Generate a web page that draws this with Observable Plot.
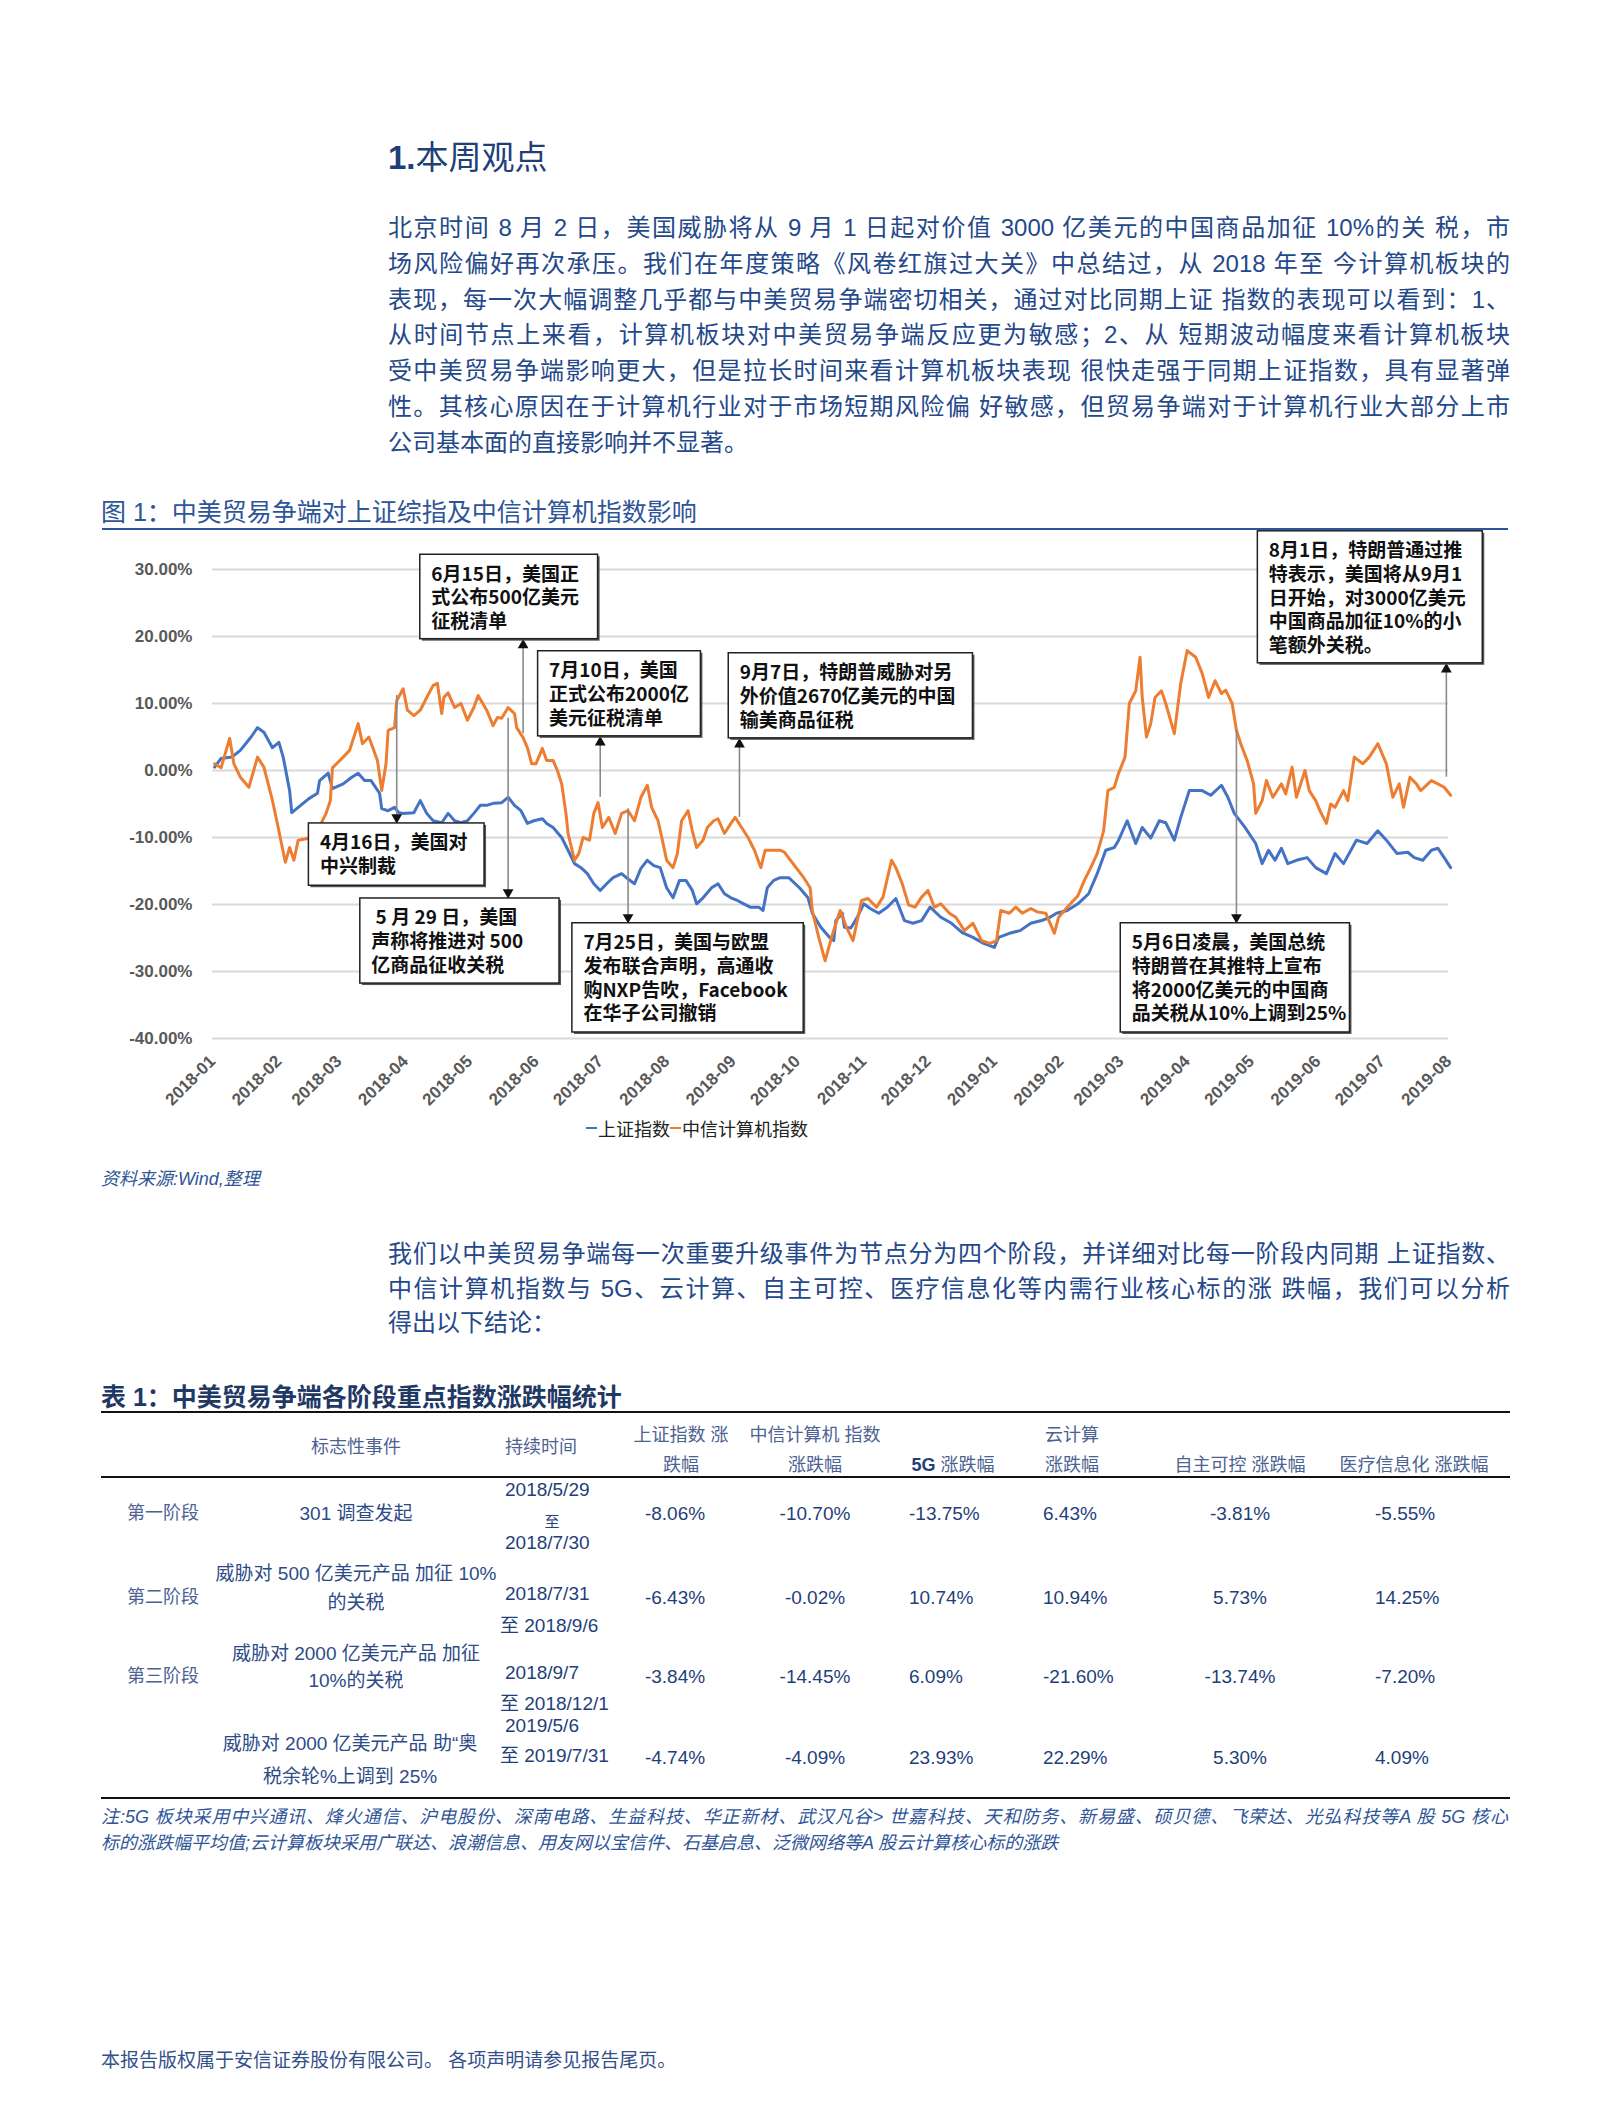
<!DOCTYPE html>
<html>
<head>
<meta charset="utf-8">
<script src="https://cdn.jsdelivr.net/npm/d3@7"></script>
<script src="https://cdn.jsdelivr.net/npm/@observablehq/plot@0.6"></script>
<style>
  html, body { margin: 0; padding: 0; background: #fff; }
  #page { position: relative; width: 1602px; height: 2112px; overflow: hidden;
          font-family: "Liberation Sans", "Noto Sans CJK SC", sans-serif; }
  .abs { position: absolute; white-space: nowrap; line-height: 1; }
  .jl { position: absolute; white-space: normal; text-align: justify; text-align-last: justify; line-height: 1; }
  #chart svg { position: absolute; left: 90px; top: 530px; overflow: visible; }
</style>
</head>
<body>
<div id="page"><div id="chart"></div></div>
<script>
// ---------------- DATA ----------------
const sectionTitle = "本周观点";
const para1Lines = [
  "北京时间 8 月 2 日，美国威胁将从 9 月 1 日起对价值 3000 亿美元的中国商品加征 10%的关 税，市",
  "场风险偏好再次承压。我们在年度策略《风卷红旗过大关》中总结过，从 2018 年至 今计算机板块的",
  "表现，每一次大幅调整几乎都与中美贸易争端密切相关，通过对比同期上证 指数的表现可以看到：1、",
  "从时间节点上来看，计算机板块对中美贸易争端反应更为敏感；2、从 短期波动幅度来看计算机板块",
  "受中美贸易争端影响更大，但是拉长时间来看计算机板块表现 很快走强于同期上证指数，具有显著弹",
  "性。其核心原因在于计算机行业对于市场短期风险偏 好敏感，但贸易争端对于计算机行业大部分上市",
  "公司基本面的直接影响并不显著。"
];
const figureTitle = "图 1：中美贸易争端对上证综指及中信计算机指数影响";
const sourceText = "资料来源:Wind,整理";
const para2Lines = [
  "我们以中美贸易争端每一次重要升级事件为节点分为四个阶段，并详细对比每一阶段内同期 上证指数、",
  "中信计算机指数与 5G、云计算、自主可控、医疗信息化等内需行业核心标的涨 跌幅，我们可以分析",
  "得出以下结论："
];
const tableTitle = "表 1：中美贸易争端各阶段重点指数涨跌幅统计";
const noteLines = [
  "注:5G 板块采用中兴通讯、烽火通信、沪电股份、深南电路、生益科技、华正新材、武汉凡谷> 世嘉科技、天和防务、新易盛、硕贝德、飞荣达、光弘科技等A 股 5G 核心",
  "标的涨跌幅平均值;云计算板块采用广联达、浪潮信息、用友网以宝信件、石基启息、泛微网络等A 股云计算核心标的涨跌"
];
const footerText = "本报告版权属于安信证券股份有限公司。 各项声明请参见报告尾页。";

const seriesNames = ["上证指数", "中信计算机指数"];
const yTicks = [30, 20, 10, 0, -10, -20, -30, -40];
const xTickLabels = ["2018-01","2018-02","2018-03","2018-04","2018-05","2018-06","2018-07","2018-08","2018-09","2018-10",
  "2018-11","2018-12","2019-01","2019-02","2019-03","2019-04","2019-05","2019-06","2019-07","2019-08"];

// 上证指数 cumulative change (%)
const shSeries = [
  ["2018-01-02",0.5],["2018-01-05",1.8],["2018-01-10",2.0],["2018-01-14",3.0],["2018-01-19",5.0],["2018-01-22",6.4],
  ["2018-01-25",5.7],["2018-01-29",3.4],["2018-02-01",4.2],["2018-02-03",2.0],["2018-02-06",-3.0],["2018-02-07",-6.3],
  ["2018-02-10",-5.5],["2018-02-15",-4.2],["2018-02-19",-3.4],["2018-02-20",-1.5],["2018-02-24",-0.4],["2018-02-26",-2.7],
  ["2018-03-03",-2.0],["2018-03-07",-1.0],["2018-03-10",-0.4],["2018-03-13",-1.5],["2018-03-16",-1.5],["2018-03-20",-3.4],
  ["2018-03-21",-5.7],["2018-03-24",-6.0],["2018-03-27",-5.5],["2018-03-29",-6.3],["2018-03-31",-6.4],["2018-04-05",-6.3],
  ["2018-04-08",-4.5],["2018-04-11",-6.4],["2018-04-14",-7.5],["2018-04-18",-7.8],["2018-04-21",-6.4],["2018-04-24",-7.5],
  ["2018-04-27",-7.8],["2018-04-30",-7.5],["2018-05-03",-6.4],["2018-05-06",-5.2],["2018-05-09",-5.2],["2018-05-12",-4.9],
  ["2018-05-16",-4.8],["2018-05-19",-4.0],["2018-05-22",-5.2],["2018-05-25",-6.0],["2018-05-28",-7.9],["2018-05-31",-7.5],
  ["2018-06-04",-7.2],["2018-06-06",-7.9],["2018-06-09",-8.5],["2018-06-13",-10.0],["2018-06-16",-11.9],["2018-06-19",-13.9],
  ["2018-06-22",-14.5],["2018-06-25",-15.4],["2018-06-28",-16.9],["2018-07-01",-17.9],["2018-07-04",-16.9],["2018-07-07",-16.0],
  ["2018-07-11",-15.4],["2018-07-14",-16.2],["2018-07-17",-16.9],["2018-07-20",-14.6],["2018-07-23",-13.4],["2018-07-26",-14.2],
  ["2018-07-29",-14.5],["2018-08-01",-17.5],["2018-08-04",-19.0],["2018-08-07",-16.4],["2018-08-10",-16.4],["2018-08-13",-17.9],
  ["2018-08-15",-19.9],["2018-08-18",-19.0],["2018-08-22",-17.5],["2018-08-25",-16.9],["2018-08-28",-18.4],["2018-08-31",-19.0],
  ["2018-09-03",-19.4],["2018-09-06",-19.9],["2018-09-09",-20.4],["2018-09-13",-20.4],["2018-09-15",-20.9],["2018-09-17",-17.5],
  ["2018-09-20",-16.4],["2018-09-23",-16.0],["2018-09-27",-16.0],["2018-10-02",-17.5],["2018-10-06",-19.0],["2018-10-08",-21.3],
  ["2018-10-12",-23.4],["2018-10-16",-24.9],["2018-10-18",-25.4],["2018-10-19",-22.4],["2018-10-22",-21.3],["2018-10-23",-23.4],
  ["2018-10-26",-23.5],["2018-10-29",-21.9],["2018-11-01",-19.9],["2018-11-04",-20.6],["2018-11-08",-21.3],["2018-11-12",-20.4],
  ["2018-11-16",-19.1],["2018-11-20",-22.4],["2018-11-24",-22.8],["2018-11-28",-22.4],["2018-12-02",-20.4],["2018-12-07",-21.9],
  ["2018-12-12",-22.8],["2018-12-17",-24.2],["2018-12-22",-24.9],["2018-12-27",-25.8],["2019-01-01",-26.4],["2019-01-03",-24.9],
  ["2019-01-08",-24.3],["2019-01-13",-23.9],["2019-01-18",-22.8],["2019-01-23",-22.4],["2019-01-27",-21.9],["2019-01-30",-21.3],
  ["2019-02-04",-20.9],["2019-02-09",-19.9],["2019-02-14",-18.4],["2019-02-18",-15.4],["2019-02-22",-11.9],["2019-02-26",-11.5],
  ["2019-02-28",-10.4],["2019-03-04",-7.5],["2019-03-08",-10.9],["2019-03-11",-8.5],["2019-03-15",-10.1],["2019-03-19",-7.5],
  ["2019-03-22",-7.8],["2019-03-26",-10.4],["2019-03-29",-7.0],["2019-04-02",-3.0],["2019-04-08",-3.0],["2019-04-12",-3.7],
  ["2019-04-17",-2.2],["2019-04-20",-4.0],["2019-04-23",-6.4],["2019-04-28",-8.5],["2019-05-03",-10.9],["2019-05-06",-13.9],
  ["2019-05-09",-11.9],["2019-05-12",-13.4],["2019-05-15",-11.6],["2019-05-18",-13.9],["2019-05-22",-13.4],["2019-05-27",-13.0],
  ["2019-05-31",-14.5],["2019-06-05",-15.4],["2019-06-09",-12.4],["2019-06-13",-13.9],["2019-06-19",-10.4],["2019-06-24",-10.9],
  ["2019-06-29",-9.0],["2019-07-03",-10.4],["2019-07-08",-12.4],["2019-07-13",-12.2],["2019-07-16",-13.0],["2019-07-20",-13.4],
  ["2019-07-24",-11.9],["2019-07-27",-11.6],["2019-07-30",-13.0],["2019-08-02",-14.5]
];

// 中信计算机指数 cumulative change (%)
const citicSeries = [
  ["2018-01-02",1.0],["2018-01-05",0.4],["2018-01-09",4.8],["2018-01-11",1.0],["2018-01-14",-1.0],["2018-01-18",-2.5],
  ["2018-01-22",2.0],["2018-01-25",0.5],["2018-01-29",-4.5],["2018-01-31",-7.5],["2018-02-04",-13.7],["2018-02-06",-11.5],
  ["2018-02-08",-13.4],["2018-02-10",-10.4],["2018-02-15",-10.1],["2018-02-19",-9.0],["2018-02-23",-6.4],["2018-02-25",-4.5],
  ["2018-02-26",0.4],["2018-03-03",2.0],["2018-03-06",3.0],["2018-03-10",7.0],["2018-03-12",4.0],["2018-03-15",5.0],
  ["2018-03-19",1.5],["2018-03-21",-3.0],["2018-03-23",1.0],["2018-03-24",6.0],["2018-03-27",6.4],["2018-03-28",10.4],
  ["2018-03-31",12.2],["2018-04-02",9.0],["2018-04-05",8.2],["2018-04-08",9.0],["2018-04-11",10.9],["2018-04-14",12.7],
  ["2018-04-16",13.0],["2018-04-18",8.5],["2018-04-19",10.9],["2018-04-21",11.6],["2018-04-24",9.4],["2018-04-27",10.0],
  ["2018-04-30",7.5],["2018-05-03",9.4],["2018-05-05",11.2],["2018-05-09",9.0],["2018-05-12",6.7],["2018-05-14",7.9],
  ["2018-05-16",7.8],["2018-05-19",9.4],["2018-05-22",8.5],["2018-05-23",6.4],["2018-05-26",4.9],["2018-05-28",3.4],
  ["2018-05-30",1.0],["2018-06-01",1.0],["2018-06-04",3.3],["2018-06-06",1.5],["2018-06-09",1.5],["2018-06-11",0.0],
  ["2018-06-13",-2.0],["2018-06-15",-6.4],["2018-06-16",-9.4],["2018-06-19",-13.4],["2018-06-21",-12.4],["2018-06-23",-10.0],
  ["2018-06-26",-10.4],["2018-06-28",-6.4],["2018-06-30",-4.8],["2018-07-02",-8.5],["2018-07-05",-7.0],["2018-07-08",-9.4],
  ["2018-07-11",-6.4],["2018-07-14",-6.0],["2018-07-17",-7.5],["2018-07-20",-4.0],["2018-07-23",-2.2],["2018-07-25",-5.5],
  ["2018-07-28",-7.5],["2018-07-30",-10.4],["2018-08-01",-13.4],["2018-08-04",-14.5],["2018-08-06",-12.4],["2018-08-08",-7.5],
  ["2018-08-11",-6.0],["2018-08-13",-9.0],["2018-08-15",-11.5],["2018-08-18",-10.4],["2018-08-20",-8.5],["2018-08-23",-7.5],
  ["2018-08-25",-7.2],["2018-08-28",-9.4],["2018-08-31",-7.9],["2018-09-02",-7.0],["2018-09-05",-8.5],["2018-09-08",-10.0],
  ["2018-09-11",-11.9],["2018-09-14",-14.5],["2018-09-16",-11.9],["2018-09-20",-11.9],["2018-09-23",-11.9],["2018-09-25",-12.2],
  ["2018-09-29",-13.9],["2018-10-04",-16.0],["2018-10-07",-17.5],["2018-10-08",-20.9],["2018-10-11",-24.9],["2018-10-14",-28.4],
  ["2018-10-17",-24.9],["2018-10-21",-20.9],["2018-10-24",-23.4],["2018-10-27",-25.4],["2018-10-31",-19.4],["2018-11-03",-19.1],
  ["2018-11-07",-20.4],["2018-11-10",-18.9],["2018-11-14",-13.4],["2018-11-16",-14.5],["2018-11-19",-16.9],["2018-11-22",-20.1],
  ["2018-11-25",-20.4],["2018-11-28",-18.9],["2018-12-01",-17.9],["2018-12-04",-20.4],["2018-12-07",-19.9],["2018-12-11",-21.3],
  ["2018-12-14",-21.9],["2018-12-18",-23.9],["2018-12-22",-22.8],["2018-12-26",-25.4],["2018-12-30",-25.8],["2019-01-02",-25.4],
  ["2019-01-04",-20.9],["2019-01-08",-21.3],["2019-01-11",-20.4],["2019-01-14",-21.3],["2019-01-18",-20.6],["2019-01-21",-21.1],
  ["2019-01-25",-21.3],["2019-01-29",-24.3],["2019-01-31",-21.9],["2019-02-04",-20.4],["2019-02-09",-18.7],["2019-02-12",-16.4],
  ["2019-02-15",-14.5],["2019-02-18",-12.4],["2019-02-21",-9.0],["2019-02-23",-3.0],["2019-02-26",-2.5],["2019-02-28",-0.4],
  ["2019-03-03",2.0],["2019-03-05",10.0],["2019-03-08",11.9],["2019-03-10",16.9],["2019-03-11",11.0],["2019-03-13",5.0],
  ["2019-03-15",7.0],["2019-03-17",10.9],["2019-03-20",11.9],["2019-03-22",10.0],["2019-03-26",5.5],["2019-03-29",13.0],
  ["2019-04-01",17.9],["2019-04-05",16.9],["2019-04-08",14.5],["2019-04-11",10.9],["2019-04-14",13.4],["2019-04-17",11.5],
  ["2019-04-19",12.0],["2019-04-22",10.0],["2019-04-24",6.0],["2019-04-26",4.0],["2019-04-29",1.5],["2019-05-02",-2.0],
  ["2019-05-03",-6.4],["2019-05-06",-4.5],["2019-05-08",-1.5],["2019-05-11",-4.0],["2019-05-15",-2.0],["2019-05-17",-3.5],
  ["2019-05-20",0.5],["2019-05-22",-4.0],["2019-05-25",-1.0],["2019-05-26",0.0],["2019-05-28",-3.0],["2019-05-31",-4.5],
  ["2019-06-02",-6.0],["2019-06-05",-7.9],["2019-06-07",-5.0],["2019-06-09",-5.5],["2019-06-13",-3.0],["2019-06-15",-4.5],
  ["2019-06-18",2.0],["2019-06-22",1.0],["2019-06-25",2.0],["2019-06-29",4.0],["2019-07-03",1.0],["2019-07-06",-4.0],
  ["2019-07-09",-2.0],["2019-07-11",-5.5],["2019-07-14",-1.0],["2019-07-17",-2.0],["2019-07-19",-3.0],["2019-07-24",-1.5],
  ["2019-07-27",-2.0],["2019-07-30",-2.5],["2019-08-02",-3.7]
];

// Event call-outs: arrow at date, from curve value to box edge; box bounds in data units
const noteTexts = [
  "4月16日，美国对\n中兴制裁",
  "6月15日，美国正\n式公布500亿美元\n征税清单",
  "\u00a05 月 29 日，美国\n声称将推进对 500\n亿商品征收关税",
  "7月10日，美国\n正式公布2000亿\n美元征税清单",
  "7月25日，美国与欧盟\n发布联合声明，高通收\n购NXP告吹，Facebook\n在华子公司撤销",
  "9月7日，特朗普威胁对另\n外价值2670亿美元的中国\n输美商品征税",
  "5月6日凌晨，美国总统\n特朗普在其推特上宣布\n将2000亿美元的中国商\n品关税从10%上调到25%",
  "8月1日，特朗普通过推\n特表示，美国将从9月1\n日开始，对3000亿美元\n中国商品加征10%的小\n笔额外关税。"
];
const noteArrowX  = ["2018-03-28","2018-05-26","2018-05-19","2018-07-01","2018-07-14","2018-09-04","2019-04-24","2019-07-31"];
const noteArrowFrom = [11.2, 5.5, 7.8, -4.0, -5.7, -7.0, 6.0, -1.0];
const noteArrowTo   = [-7.9, 19.6, -19.1, 5.1, -22.8, 4.8, -22.8, 16.0];
const noteBoxX1 = ["2018-02-15","2018-04-08","2018-03-11","2018-06-02","2018-06-18","2018-08-30","2019-03-01","2019-05-04"];
const noteBoxX2 = ["2018-05-08","2018-06-30","2018-06-12","2018-08-17","2018-10-04","2018-12-22","2019-06-16","2019-08-17"];
const noteBoxTop    = [-7.9, 32.2, -19.1, 17.8, -22.8, 17.5, -22.8, 35.7];
const noteBoxBottom = [-17.2, 19.6, -31.8, 5.1, -39.1, 4.8, -39.1, 16.0];

// Table
const tableHeaders = [
  ["标志性事件"], ["持续时间"], ["上证指数 涨", "跌幅"], ["中信计算机 指数", "涨跌幅"],
  ["5G 涨跌幅"], ["云计算", "涨跌幅"], ["自主可控 涨跌幅"], ["医疗信息化 涨跌幅"]
];
const stages = ["第一阶段", "第二阶段", "第三阶段", ""];
const events = [
  ["301 调查发起"],
  ["威胁对 500 亿美元产品 加征 10%", "的关税"],
  ["威胁对 2000 亿美元产品 加征", "10%的关税"],
  ["威胁对 2000 亿美元产品 助“奥", "税余轮%上调到 25%"]
];
const periods = [
  ["2018/5/29", "至", "2018/7/30"],
  ["2018/7/31", "至 2018/9/6"],
  ["2018/9/7", "至 2018/12/1"],
  ["2019/5/6", "至 2019/7/31"]
];
const shChange    = ["-8.06%", "-6.43%", "-3.84%", "-4.74%"];
const citicChange = ["-10.70%", "-0.02%", "-14.45%", "-4.09%"];
const g5Change    = ["-13.75%", "10.74%", "6.09%", "23.93%"];
const cloudChange = ["6.43%", "10.94%", "-21.60%", "22.29%"];
const zzkkChange  = ["-3.81%", "5.73%", "-13.74%", "5.30%"];
const medChange   = ["-5.55%", "14.25%", "-7.20%", "4.09%"];

// ---------------- PAGE TEXT ----------------
const page = document.getElementById("page");
function put(txt, x, y, o = {}) {
  const el = document.createElement("div");
  el.className = o.cls || "abs";
  el.textContent = txt;
  el.style.left = x + "px";
  el.style.top = y + "px";
  el.style.fontSize = (o.size || 19) + "px";
  el.style.color = o.color || "#1f3f7a";
  if (o.weight) el.style.fontWeight = o.weight;
  if (o.italic) el.style.fontStyle = "italic";
  if (o.width) el.style.width = o.width + "px";
  const tx = o.align === "center" ? "-50%" : o.align === "right" ? "-100%" : "0";
  el.style.transform = `translate(${tx}, -50%)`;
  page.appendChild(el);
  return el;
}
function hline(x, y, w, h, color) {
  const el = document.createElement("div");
  el.style.cssText = `position:absolute;left:${x}px;top:${y}px;width:${w}px;height:${h}px;background:${color};`;
  page.appendChild(el);
}

// Section title
const t = put("", 388, 157, {size: 33, color: "#1f3f7a"});
t.innerHTML = `<b style="font-family:'Liberation Sans'">1.</b>${sectionTitle}`;

const bodyBlue = "#24488a";
para1Lines.forEach((l, i) => {
  const last = i === para1Lines.length - 1;
  put(l, 388, 228 + i * 35.8, {size: 24, color: bodyBlue, cls: last ? "abs" : "jl", width: last ? null : 1122});
});

put(figureTitle, 101, 512, {size: 25, color: "#2e5597"});
hline(102, 528, 1406, 2, "#2e5597");

// legend
const leg = document.createElement("div");
leg.style.cssText = "position:absolute;left:586px;top:1116px;display:flex;align-items:center;font-size:18px;line-height:24px;color:#222;font-family:'Noto Sans CJK SC';";
[["#4472C4", seriesNames[0]], ["#ED7D31", seriesNames[1]]].forEach(([c, n]) => {
  const sw = document.createElement("span");
  sw.style.cssText = `display:inline-block;width:11px;height:2px;background:${c};margin-right:1px;`;
  const tx = document.createElement("span");
  tx.textContent = n;
  leg.appendChild(sw); leg.appendChild(tx);
});
page.appendChild(leg);

put(sourceText, 101, 1179, {size: 18, color: "#2f5597", italic: true});

para2Lines.forEach((l, i) => {
  const last = i === para2Lines.length - 1;
  put(l, 388, 1254 + i * 34.5, {size: 24, color: bodyBlue, cls: last ? "abs" : "jl", width: last ? null : 1122});
});

put(tableTitle, 101, 1397, {size: 25, color: "#1f3864", weight: "bold"});
hline(101, 1411, 1409, 2, "#111");
hline(101, 1476, 1409, 2, "#111");
hline(101, 1797, 1409, 2, "#111");

// table header
const hdrColor = "#4d6291";
const hdrPos = [[356, [1447]], [541, [1447]], [681, [1435, 1465]], [815, [1435, 1465]],
                [953, [1465]], [1072, [1435, 1465]], [1240, [1465]], [1414, [1465]]];
tableHeaders.forEach((h, i) => {
  h.forEach((line, j) => {
    const el = put(line, hdrPos[i][0], hdrPos[i][1][j], {size: 18, color: hdrColor, align: "center"});
    if (line.startsWith("5G")) el.innerHTML = "<b style='color:#1f3f7a'>5G</b> 涨跌幅";
  });
});

// table body
const rowMainY = [1513, 1597, 1676, 1757];
const rowEventY = [[1513], [1573, 1602], [1653, 1680], [1743, 1776]];
const rowPeriodY = [[1489, 1521, 1542], [1593, 1625], [1672, 1703], [1725, 1755]];
const valueCols = [
  [shChange, 675, "center"], [citicChange, 815, "center"], [g5Change, 909, "left"],
  [cloudChange, 1043, "left"], [zzkkChange, 1240, "center"], [medChange, 1375, "left"]
];
stages.forEach((s, r) => {
  if (s) put(s, 163, rowMainY[r], {size: 18, color: hdrColor, align: "center"});
  events[r].forEach((e, j) => put(e, r === 3 ? 350 : 356, rowEventY[r][j], {size: 19, color: "#2d4b86", align: "center"}));
  periods[r].forEach((p, j) => {
    if (p === "至") put(p, 552, rowPeriodY[r][j], {size: 15, color: "#1f3f7a", align: "center"});
    else put(p, p.startsWith("至") ? 500 : 505, rowPeriodY[r][j], {size: 19, color: "#1f3f7a"});
  });
  valueCols.forEach(([arr, x, a]) => put(arr[r], x, rowMainY[r], {size: 19, color: "#1f3f7a", align: a}));
});

noteLines.forEach((l, i) => {
  put(l, 101, 1817 + i * 26, {size: 18, color: "#2f5597", italic: true, cls: i === 0 ? "jl" : "abs", width: i === 0 ? 1407 : null});
});

put(footerText, 101, 2060, {size: 19, color: "#34508a"});

// ---------------- CHART ----------------
const parse = d3.utcParse("%Y-%m-%d");
const parseM = d3.utcParse("%Y-%m");
const sh = shSeries.map(([d, v]) => ({date: parse(d), value: v}));
const citic = citicSeries.map(([d, v]) => ({date: parse(d), value: v}));
const notes = noteTexts.map((txt, i) => ({
  text: txt, x: parse(noteArrowX[i]), yFrom: noteArrowFrom[i], yTo: noteArrowTo[i],
  bx1: parse(noteBoxX1[i]), bx2: parse(noteBoxX2[i]), by1: noteBoxTop[i], by2: noteBoxBottom[i]
}));
const notesDown = notes.filter(d => d.yTo < d.yFrom);
const notesUp = notes.filter(d => d.yTo > d.yFrom);
const monthTicks = xTickLabels.map(parseM);

const chart = Plot.plot({
  width: 1420,
  height: 590,
  marginLeft: 122,
  marginRight: 62,
  marginTop: 39,
  marginBottom: 82,
  x: {type: "utc", domain: [parse("2018-01-01"), parse("2019-08-01")]},
  y: {domain: [-40, 30]},
  style: {fontFamily: "'Liberation Sans', 'Noto Sans CJK SC', sans-serif", background: "transparent", overflow: "visible"},
  marks: [
    Plot.ruleY(yTicks, {stroke: "#d9d9d9", strokeWidth: 2.2}),
    Plot.axisY({ticks: yTicks, tickSize: 0, tickPadding: 20, tickFormat: d => d.toFixed(2) + "%",
                label: null, fontSize: 17, fontWeight: "bold", fill: "#595959"}),
    Plot.axisX({ticks: monthTicks, tickSize: 0, tickPadding: 20, tickRotate: -45, tickFormat: d3.utcFormat("%Y-%m"),
                label: null, fontSize: 17, fontWeight: "bold", fill: "#595959"}),
    Plot.line(sh, {x: "date", y: "value", stroke: "#4472C4", strokeWidth: 3, strokeLinejoin: "round"}),
    Plot.line(citic, {x: "date", y: "value", stroke: "#ED7D31", strokeWidth: 3, strokeLinejoin: "round"}),
    Plot.ruleX(notes, {x: "x", y1: "yFrom", y2: "yTo", stroke: "#8a8a8a", strokeWidth: 1.6}),
    Plot.dot(notesDown, {x: "x", y: "yTo", symbol: "triangle", r: 4, fill: "#111", stroke: null, rotate: 180, dy: -6}),
    Plot.dot(notesUp, {x: "x", y: "yTo", symbol: "triangle", r: 4, fill: "#111", stroke: null, dy: 6}),
    Plot.rect(notes, {x1: "bx1", x2: "bx2", y1: "by1", y2: "by2", fill: "#555", dx: 2, dy: 2}),
    Plot.rect(notes, {x1: "bx1", x2: "bx2", y1: "by1", y2: "by2", fill: "white", stroke: "#222", strokeWidth: 1.5}),
    Plot.text(notes, {x: "bx1", y: "by1", text: "text", textAnchor: "start", lineAnchor: "top", dx: 11, dy: 9,
                      fontSize: 19, fontWeight: "bold", fill: "#111", lineHeight: 1.25,
                      fontFamily: "'Noto Sans CJK SC', sans-serif"})
  ]
});
document.getElementById("chart").appendChild(chart);
</script>
</body>
</html>
